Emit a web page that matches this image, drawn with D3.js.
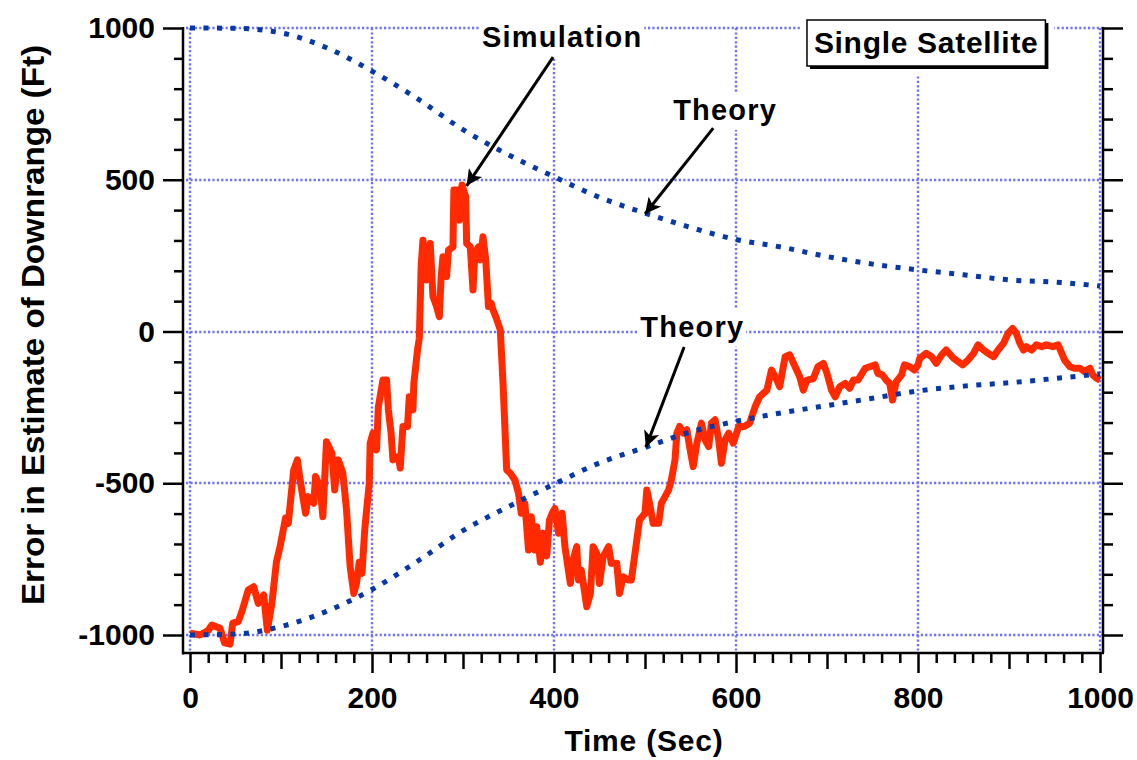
<!DOCTYPE html>
<html>
<head>
<meta charset="utf-8">
<script src="https://cdnjs.cloudflare.com/ajax/libs/d3/7.8.5/d3.min.js"></script>
<style>
  body { margin: 0; background: #fff; }
  text { font-family: "Liberation Sans", Arial, Helvetica, sans-serif; font-weight: bold; fill: #000; }
</style>
</head>
<body>
<div id="chart"></div>
<script>

// simulation run (time in sec, error in ft)
var simTime = [0, 11, 20, 24, 33, 38, 44, 47, 53, 57, 64, 70, 75, 81, 85, 90, 95, 99, 105, 108,
  114, 118, 121, 127, 130, 136, 138, 143, 146, 150, 156, 159, 163, 168, 172, 176, 180, 183, 186, 189,
  192, 195, 197, 198, 201, 205, 207, 212, 216, 218, 221, 223, 229, 231, 234, 239, 241, 245, 246, 250,
  252, 253, 254, 256, 260, 264, 267, 271, 274, 276, 278, 282, 284, 289, 290, 295, 296, 299, 303, 304,
  308, 311, 313, 317, 319, 322, 325, 328, 331, 333, 336, 341, 344, 348, 352, 357, 361, 364, 368, 372,
  375, 379, 381, 385, 388, 390, 392, 395, 398, 401, 405, 409, 412, 418, 421, 425, 427, 430, 436, 440,
  443, 447, 450, 454, 460, 463, 469, 472, 476, 482, 485, 487, 491, 494, 500, 502, 505, 509, 515, 518,
  522, 526, 529, 533, 535, 538, 542, 546, 549, 553, 557, 562, 566, 570, 573, 577, 581, 584, 588, 592,
  597, 603, 609, 615, 621, 626, 634, 639, 645, 648, 654, 659, 665, 670, 674, 678, 685, 690, 696, 700,
  705, 709, 714, 720, 725, 729, 734, 742, 747, 753, 756, 761, 765, 769, 772, 776, 782, 785, 791, 796,
  800, 802, 809, 815, 820, 826, 831, 839, 844, 849, 855, 861, 866, 872, 877, 883, 888, 894, 899, 904,
  908, 912, 916, 919, 925, 930, 936, 941, 948, 954, 958, 961, 967, 972, 978, 983, 989, 992, 996, 1000];
var simError = [-994, -1000, -985, -967, -978, -1026, -1030, -961, -956, -923, -852, -841, -896, -868, -984, -896, -759, -709, -615, -632,
  -456, -423, -489, -599, -544, -566, -478, -511, -610, -363, -401, -522, -423, -467, -588, -775, -863, -830, -760, -797,
  -654, -560, -500, -368, -335, -390, -248, -160, -160, -258, -335, -423, -412, -450, -313, -313, -215, -258, -171, -61,
  -22, 93, 214, 301, 170, 290, 115, 82, 49, 181, 246, 181, 268, 279, 466, 466, 367, 483, 444, 290,
  279, 137, 258, 279, 236, 312, 236, 82, 93, 71, 49, 5, -171, -456, -467, -489, -533, -599, -566, -720,
  -610, -720, -643, -760, -665, -700, -740, -621, -599, -583, -665, -599, -709, -830, -753, -709, -819, -786, -907, -863,
  -709, -731, -830, -742, -709, -764, -764, -863, -808, -819, -819, -775, -687, -621, -599, -522, -566, -632, -632, -566,
  -544, -522, -489, -423, -335, -313, -335, -324, -379, -445, -368, -302, -357, -379, -302, -291, -357, -434, -357, -335,
  -368, -313, -313, -302, -248, -215, -193, -127, -160, -182, -83, -77, -116, -149, -193, -160, -155, -116, -105, -138,
  -193, -215, -182, -171, -187, -160, -160, -121, -116, -110, -138, -143, -160, -171, -226, -166, -143, -110, -116, -127,
  -110, -88, -72, -83, -105, -77, -61, -88, -99, -110, -94, -72, -44, -61, -72, -83, -61, -39, -6, 10,
  -6, -39, -61, -50, -61, -44, -50, -44, -50, -44, -72, -94, -116, -121, -121, -132, -121, -143, -154, -160];

// theory (one sigma bounds)
var theoryTime  = [0, 50, 100, 150, 200, 250, 300, 350, 400, 450, 500, 550, 600, 650, 700, 750, 800, 850, 900, 950, 1000];
var theoryUpper = [1000, 999, 984, 935, 858, 767, 665, 582, 510, 442, 390, 343, 303, 278, 247, 222, 203, 187, 170, 163, 150];
var theoryLower = [-1000, -997, -972, -922, -850, -757, -656, -577, -503, -433, -382, -331, -296, -268, -244, -220, -196, -180, -169, -155, -140];

// axis ticks
var xGridTicks = [0, 200, 400, 600, 800, 1000];
var yGridTicks = [-1000, -500, 0, 500, 1000];

var svg = d3.select("#chart").append("svg")
    .attr("width", 1137)
    .attr("height", 760)
    .style("background", "#fff");

// set the ranges
var x = d3.scaleLinear().domain([0, 1000]).range([190, 1100]);
var y = d3.scaleLinear().domain([-1000, 1000]).range([635, 28]);

var axisLeftX = 183, axisRightX = 1103, axisBottomY = 653;

// grid
var grid = svg.append("g");
grid.selectAll(".vgrid")
  .data(xGridTicks)
  .enter().append("line")
    .attr("x1", function(d) { return Math.round(x(d)); })
    .attr("x2", function(d) { return Math.round(x(d)); })
    .attr("y1", y(1000))
    .attr("y2", axisBottomY);
grid.selectAll(".hgrid")
  .data(yGridTicks)
  .enter().append("line")
    .attr("x1", axisLeftX + 3)
    .attr("x2", axisRightX)
    .attr("y1", function(d) { return Math.round(y(d)); })
    .attr("y2", function(d) { return Math.round(y(d)); });
grid.selectAll("line")
    .style("stroke", "#6f6fff")
    .style("stroke-width", 2.4)
    .style("stroke-dasharray", "2.2,2.2");

// simulation line
var sim = simTime.map(function(t, i) { return {t: t, v: simError[i]}; });
var simLine = d3.line()
    .x(function(d) { return x(d.t); })
    .y(function(d) { return y(d.v); });

svg.append("path")
    .datum(sim)
    .attr("d", simLine)
    .style("fill", "none")
    .style("stroke", "#ff2a00")
    .style("stroke-width", 7)
    .style("stroke-linejoin", "round");

// theory curves
var theoryLine = d3.line()
    .curve(d3.curveMonotoneX)
    .x(function(d) { return x(d.t); })
    .y(function(d) { return y(d.v); });

[theoryUpper, theoryLower].forEach(function(vals) {
  svg.append("path")
      .datum(theoryTime.map(function(t, i) { return {t: t, v: vals[i]}; }))
      .attr("d", theoryLine)
      .style("fill", "none")
      .style("stroke", "#0638a8")
      .style("stroke-width", 5)
      .style("stroke-dasharray", "5,8.5");
});

// axes
function tickLen(d, major, mid, minor) {
  if (d % 200 === 0) return major;
  if (d % 100 === 0) return mid;
  return minor;
}

var xAxis = d3.axisBottom(x)
    .tickValues(d3.range(0, 1001, 20))
    .tickSize(20)
    .tickPadding(14)
    .tickFormat(function(d) { return d % 200 === 0 ? d : ""; });

var gx = svg.append("g")
    .attr("transform", "translate(0," + axisBottomY + ")")
    .call(xAxis);
gx.selectAll(".tick line").attr("y2", function(d) { return tickLen(d, 20, 16, 10); });

var yAxis = d3.axisLeft(y)
    .tickValues(d3.range(-1000, 1001, 100))
    .tickSize(20)
    .tickPadding(8)
    .tickFormat(function(d) { return d % 500 === 0 ? d : ""; });

var gy = svg.append("g")
    .attr("transform", "translate(" + axisLeftX + ",0)")
    .call(yAxis);
gy.selectAll(".tick line").attr("x2", function(d) { return d % 500 === 0 ? -20 : -9; });

var yAxisR = d3.axisRight(y)
    .tickValues(d3.range(-1000, 1001, 100))
    .tickSize(20)
    .tickFormat("");

var gyr = svg.append("g")
    .attr("transform", "translate(" + axisRightX + ",0)")
    .call(yAxisR);
gyr.selectAll(".tick line").attr("x2", function(d) { return d % 500 === 0 ? 20 : 10; });

[gx, gy, gyr].forEach(function(g) {
  g.select(".domain").remove();
  g.selectAll(".tick line").style("stroke", "#000").style("stroke-width", 2.5);
  g.selectAll(".tick text")
      .style("font-size", "30px")
      .style("font-family", "'Liberation Sans', Arial, sans-serif")
      .style("font-weight", "bold")
      .style("fill", "#000");
});

// axis frame lines
var frame = svg.append("g").style("stroke", "#000").style("stroke-width", 2.5);
frame.append("line").attr("x1", axisLeftX).attr("x2", axisLeftX).attr("y1", y(1000) - 1).attr("y2", axisBottomY + 1.5);
frame.append("line").attr("x1", axisLeftX).attr("x2", axisRightX + 1).attr("y1", axisBottomY).attr("y2", axisBottomY);
frame.append("line").attr("x1", axisRightX).attr("x2", axisRightX).attr("y1", y(1000) - 1).attr("y2", axisBottomY);

// axis titles
svg.append("text")
    .attr("x", 644)
    .attr("y", 751)
    .attr("text-anchor", "middle")
    .style("font-size", "30px")
    .style("letter-spacing", "0.8px")
    .text("Time (Sec)");

svg.append("text")
    .attr("transform", "translate(44,325) rotate(-90)")
    .attr("text-anchor", "middle")
    .attr("textLength", 560)
    .attr("lengthAdjust", "spacingAndGlyphs")
    .style("font-size", "32px")
    .text("Error in Estimate of Downrange (Ft)");

// annotations (data coordinates)
var annotations = [
  {label: "Simulation", tx: 409, tv: 938, from: [399, 904], to: [304, 480]},
  {label: "Theory", tx: 588, tv: 697, from: [575, 670], to: [500, 387]},
  {label: "Theory", tx: 552, tv: -17, from: [543, -51], to: [501, -381]}
];

svg.append("defs").append("marker")
    .attr("id", "arrow")
    .attr("viewBox", "0 0 10 10")
    .attr("refX", 10)
    .attr("refY", 5)
    .attr("markerUnits", "userSpaceOnUse")
    .attr("markerWidth", 20)
    .attr("markerHeight", 16)
    .attr("orient", "auto")
  .append("path")
    .attr("d", "M0,0 L10,5 L0,10 L2.5,5 Z")
    .style("fill", "#000");

annotations.forEach(function(a) {
  var t = svg.append("text")
      .attr("x", x(a.tx))
      .attr("y", y(a.tv))
      .attr("text-anchor", "middle")
      .style("font-size", "29px")
      .style("letter-spacing", "1.2px")
      .text(a.label);
  var bb = t.node().getBBox();
  svg.insert("rect", function() { return t.node(); })
      .attr("x", bb.x - 2)
      .attr("y", bb.y - 2)
      .attr("width", bb.width + 4)
      .attr("height", bb.height + 6)
      .style("fill", "#fff");
  svg.append("line")
      .attr("x1", x(a.from[0]))
      .attr("y1", y(a.from[1]))
      .attr("x2", x(a.to[0]))
      .attr("y2", y(a.to[1]))
      .attr("marker-end", "url(#arrow)")
      .style("stroke", "#000")
      .style("stroke-width", 3);
});

// legend box
var boxL = x(678), boxR = x(940), boxT = 20, boxB = 66;
svg.append("rect")
    .attr("x", boxL - 5).attr("y", boxT - 8)
    .attr("width", boxR - boxL + 14).attr("height", boxB - boxT + 17)
    .style("fill", "#fff");
svg.append("rect")
    .attr("x", boxL + 3).attr("y", boxT + 3)
    .attr("width", boxR - boxL).attr("height", boxB - boxT)
    .style("fill", "#000");
svg.append("rect")
    .attr("x", boxL).attr("y", boxT)
    .attr("width", boxR - boxL).attr("height", boxB - boxT)
    .style("fill", "#fff")
    .style("stroke", "#000")
    .style("stroke-width", 1.5);
svg.append("text")
    .attr("x", (boxL + boxR) / 2)
    .attr("y", 53)
    .attr("text-anchor", "middle")
    .style("font-size", "30px")
    .style("letter-spacing", "0.7px")
    .text("Single Satellite");

</script>
</body>
</html>
